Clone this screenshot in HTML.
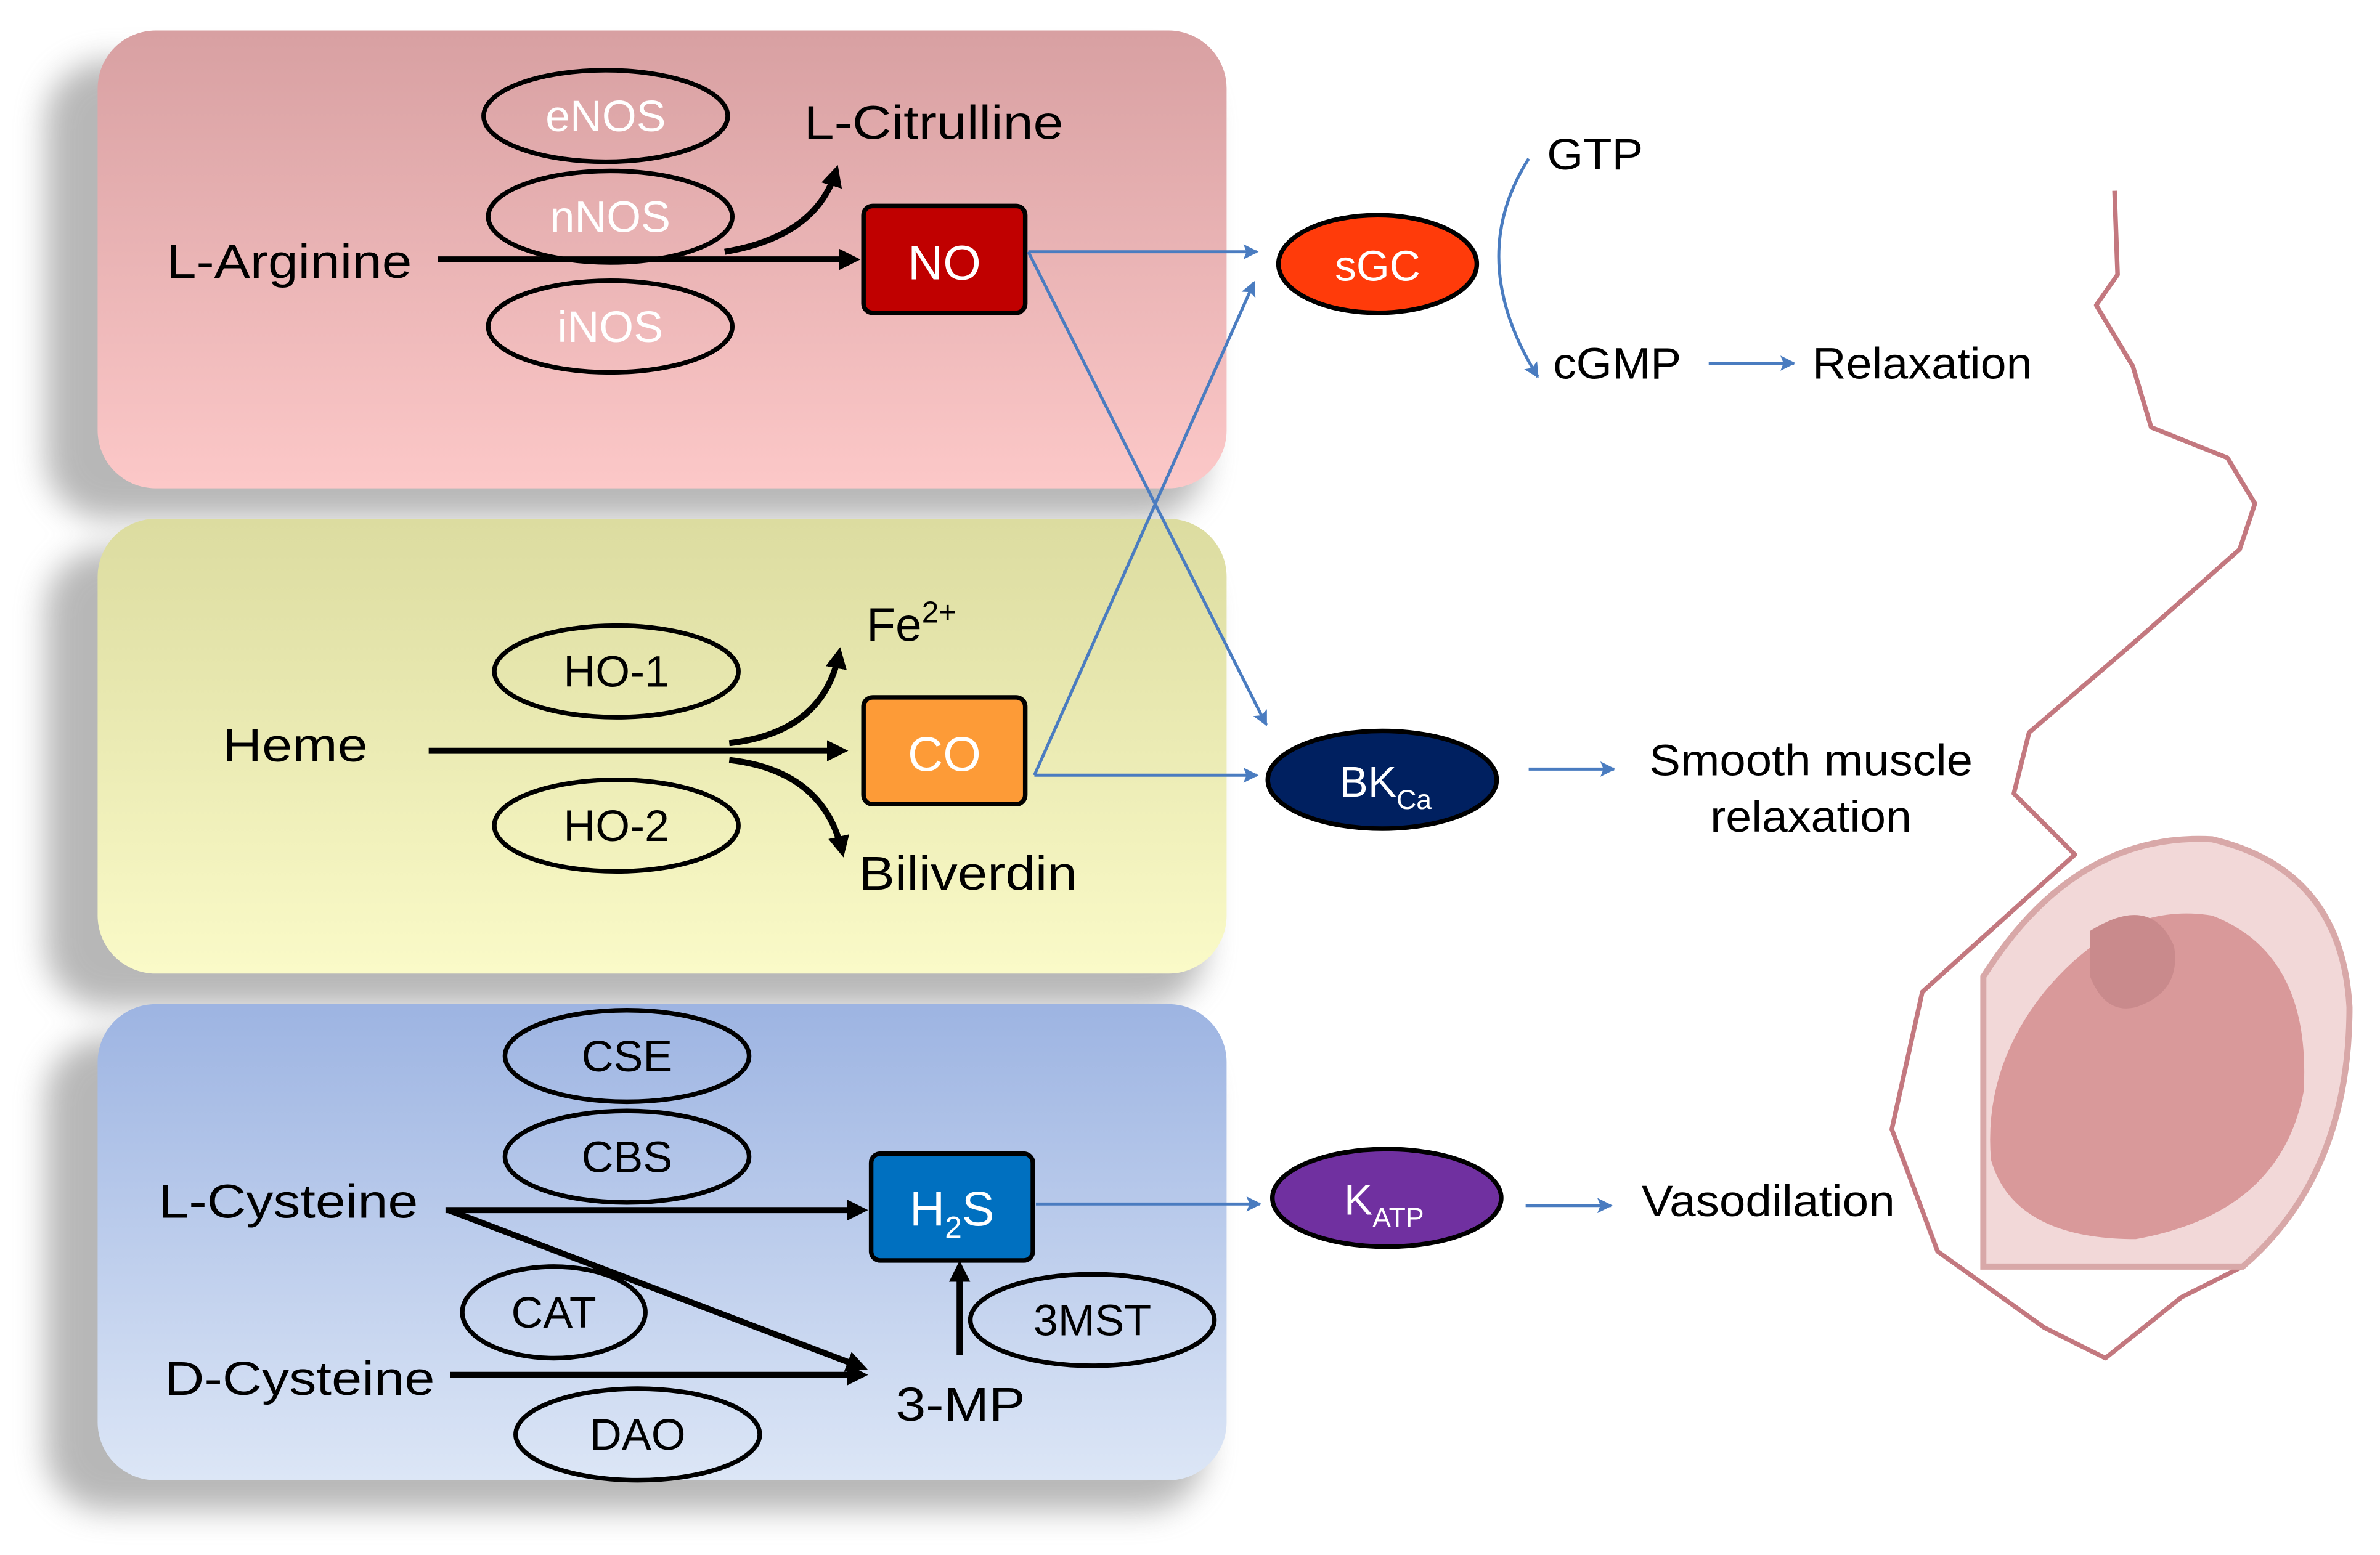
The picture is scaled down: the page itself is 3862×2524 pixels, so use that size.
<!DOCTYPE html>
<html><head><meta charset="utf-8"><style>html,body{margin:0;padding:0;background:#fff}svg{display:block}text{font-family:"Liberation Sans",sans-serif}</style></head><body>
<svg width="3862" height="2524" viewBox="0 0 1560 1019" preserveAspectRatio="none" xmlns="http://www.w3.org/2000/svg">
<defs>
<linearGradient id="gr" x1="0" y1="0" x2="0" y2="1"><stop offset="0" stop-color="#d8a0a2"/><stop offset="1" stop-color="#fcc8c8"/></linearGradient>
<linearGradient id="gy" x1="0" y1="0" x2="0" y2="1"><stop offset="0" stop-color="#dcdca0"/><stop offset="1" stop-color="#fafac8"/></linearGradient>
<linearGradient id="gb" x1="0" y1="0" x2="0" y2="1"><stop offset="0" stop-color="#9db4e2"/><stop offset="1" stop-color="#dce6f6"/></linearGradient>
<filter id="sh" x="-10%" y="-10%" width="120%" height="130%"><feGaussianBlur stdDeviation="10"/></filter>
<marker id="ab2" markerWidth="14" markerHeight="14" refX="10" refY="7" orient="auto" markerUnits="userSpaceOnUse"><path d="M0,0 L14,7 L0,14 Z" fill="#000"/></marker>
<marker id="au" markerWidth="10" markerHeight="10" refX="9" refY="5" orient="auto" markerUnits="userSpaceOnUse"><path d="M0,0 L10,5 L0,10 L2,5 Z" fill="#4a7cc0"/></marker>
</defs>
<g fill="#888" opacity="0.6" filter="url(#sh)">
<rect x="30" y="40" width="760" height="300" rx="40"/>
<rect x="30" y="360" width="760" height="300" rx="40"/>
<rect x="30" y="680" width="760" height="310" rx="40"/>
</g>
<rect x="64" y="20" width="740" height="300" rx="38" fill="url(#gr)"/>
<rect x="64" y="340" width="740" height="298" rx="38" fill="url(#gy)"/>
<rect x="64" y="658" width="740" height="312" rx="38" fill="url(#gb)"/>
<g fill="none" stroke="#000" stroke-width="3">
<ellipse cx="397" cy="76" rx="80" ry="30"/><ellipse cx="400" cy="142" rx="80" ry="30"/><ellipse cx="400" cy="214" rx="80" ry="30"/>
<ellipse cx="404" cy="440" rx="80" ry="30"/><ellipse cx="404" cy="541" rx="80" ry="30"/>
<ellipse cx="411" cy="692" rx="80" ry="30"/><ellipse cx="411" cy="758" rx="80" ry="30"/>
<ellipse cx="363" cy="860" rx="60" ry="30"/><ellipse cx="418" cy="940" rx="80" ry="30"/>
<ellipse cx="716" cy="865" rx="80" ry="30"/>
</g>
<g font-size="29" fill="#fff" text-anchor="middle">
<text x="397" y="86">eNOS</text><text x="400" y="152">nNOS</text><text x="400" y="224">iNOS</text>
</g>
<g font-size="29" fill="#000" text-anchor="middle">
<text x="404" y="450">HO-1</text><text x="404" y="551">HO-2</text>
<text x="411" y="702">CSE</text><text x="411" y="768">CBS</text><text x="363" y="870">CAT</text><text x="418" y="950">DAO</text><text x="716" y="875">3MST</text>
</g>
<g font-size="31" fill="#000">
<text x="109" y="182" textLength="161" lengthAdjust="spacingAndGlyphs">L-Arginine</text><text x="527" y="91" textLength="170" lengthAdjust="spacingAndGlyphs">L-Citrulline</text>
<text x="146" y="499" textLength="95" lengthAdjust="spacingAndGlyphs">Heme</text><text x="568" y="420">Fe<tspan font-size="20" dy="-12">2+</tspan></text><text x="563" y="583" textLength="143" lengthAdjust="spacingAndGlyphs">Biliverdin</text>
<text x="104" y="798" textLength="170" lengthAdjust="spacingAndGlyphs">L-Cysteine</text><text x="108" y="914" textLength="177" lengthAdjust="spacingAndGlyphs">D-Cysteine</text><text x="587" y="931" textLength="85" lengthAdjust="spacingAndGlyphs">3-MP</text>
</g>
<g stroke="#000" stroke-width="4" fill="none">
<line x1="287" y1="170" x2="560" y2="170" marker-end="url(#ab2)"/>
<path d="M475,165 Q535,155 548,112" marker-end="url(#ab2)"/>
<line x1="281" y1="492" x2="552" y2="492" marker-end="url(#ab2)"/>
<path d="M478,487 Q540,480 550,428" marker-end="url(#ab2)"/>
<path d="M478,498 Q540,505 552,558" marker-end="url(#ab2)"/>
<line x1="292" y1="793" x2="565" y2="793" marker-end="url(#ab2)"/>
<line x1="294" y1="793" x2="565" y2="896" marker-end="url(#ab2)"/>
<line x1="295" y1="901" x2="565" y2="901" marker-end="url(#ab2)"/>
<line x1="629" y1="888" x2="629" y2="830" marker-end="url(#ab2)"/>
</g>
<rect x="566" y="135" width="106" height="70" rx="6" fill="#c00000" stroke="#000" stroke-width="3"/>
<text x="619" y="183" font-size="32" fill="#fff" text-anchor="middle">NO</text>
<rect x="566" y="457" width="106" height="70" rx="6" fill="#fd9b37" stroke="#000" stroke-width="3"/>
<text x="619" y="505" font-size="32" fill="#fff" text-anchor="middle">CO</text>
<rect x="571" y="756" width="106" height="70" rx="6" fill="#0070c0" stroke="#000" stroke-width="3"/>
<text x="624" y="803" font-size="32" fill="#fff" text-anchor="middle">H<tspan font-size="20" dy="8">2</tspan><tspan dy="-8">S</tspan></text>
<g stroke="#4a7cc0" stroke-width="2" fill="none">
<line x1="674" y1="165" x2="824" y2="165" marker-end="url(#au)"/>
<line x1="674" y1="165" x2="830" y2="475" marker-end="url(#au)"/>
<line x1="678" y1="508" x2="822" y2="185" marker-end="url(#au)"/>
<line x1="678" y1="508" x2="824" y2="508" marker-end="url(#au)"/>
<line x1="679" y1="789" x2="826" y2="789" marker-end="url(#au)"/>
<path d="M1002,104 Q960,170 1008,247" marker-end="url(#au)"/>
<line x1="1120" y1="238" x2="1176" y2="238" marker-end="url(#au)"/>
<line x1="1002" y1="504" x2="1058" y2="504" marker-end="url(#au)"/>
<line x1="1000" y1="790" x2="1056" y2="790" marker-end="url(#au)"/>
</g>
<ellipse cx="903" cy="173" rx="65" ry="32" fill="#ff3b0a" stroke="#000" stroke-width="3"/>
<text x="903" y="184" font-size="28" fill="#fff" text-anchor="middle">sGC</text>
<ellipse cx="906" cy="511" rx="75" ry="32" fill="#002060" stroke="#000" stroke-width="3"/>
<text x="878" y="522" font-size="28" fill="#fff">BK<tspan font-size="18" dy="8">Ca</tspan></text>
<ellipse cx="909" cy="785" rx="75" ry="32" fill="#7030a0" stroke="#000" stroke-width="3"/>
<text x="881" y="796" font-size="28" fill="#fff">K<tspan font-size="18" dy="8">ATP</tspan></text>
<g font-size="29" fill="#000">
<text x="1014" y="111" textLength="63" lengthAdjust="spacingAndGlyphs">GTP</text><text x="1018" y="248" textLength="84" lengthAdjust="spacingAndGlyphs">cGMP</text><text x="1188" y="248" textLength="144" lengthAdjust="spacingAndGlyphs">Relaxation</text>
<text x="1081" y="508" textLength="212" lengthAdjust="spacingAndGlyphs">Smooth muscle</text><text x="1121" y="545" textLength="132" lengthAdjust="spacingAndGlyphs">relaxation</text>
<text x="1076" y="797" textLength="166" lengthAdjust="spacingAndGlyphs">Vasodilation</text>
</g>
<g fill="none" stroke="#b86068" stroke-width="3" stroke-linejoin="round" opacity="0.85">
<path d="M1386,125 L1388,180 L1374,200 L1398,240 L1410,280 L1460,300 L1478,330 L1468,360 L1400,420 L1330,480 L1320,520 L1360,560 L1260,650 L1240,740 L1270,820 L1340,870 L1380,890 L1430,850 L1470,830"/>
</g>
<path d="M1300,640 Q1360,545 1450,550 Q1535,570 1540,660 Q1540,770 1470,830 L1300,830 Z" fill="#f2d8d8" stroke="#d8a8a8" stroke-width="4"/>
<path d="M1340,650 Q1390,590 1450,600 Q1515,625 1510,715 Q1495,795 1400,812 Q1320,812 1305,760 Q1300,700 1340,650 Z" fill="#d9999a"/>
<path d="M1370,610 Q1410,585 1425,620 Q1430,650 1400,660 Q1380,665 1370,640 Z" fill="#c98a8c"/>
</svg>
</body></html>
